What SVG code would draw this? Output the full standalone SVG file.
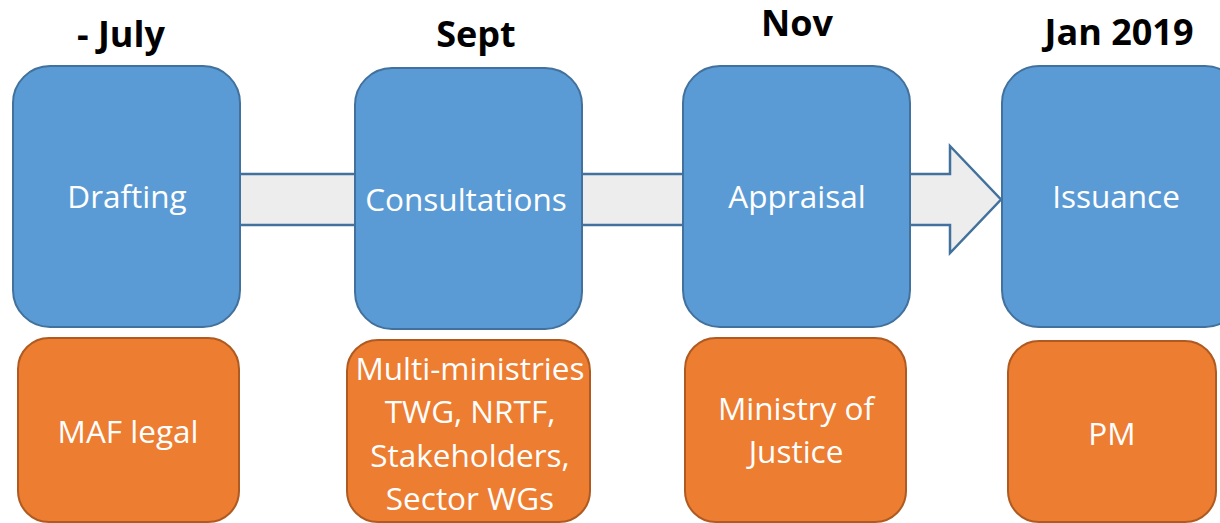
<svg xmlns="http://www.w3.org/2000/svg" width="1220" height="523" viewBox="0 0 1220 523">
<style>
.blue{fill:#5B9BD5;stroke:#41719C;stroke-width:2}
.orange{fill:#ED7D31;stroke:#AE5A21;stroke-width:2}
.arrow{fill:#EDEDED;stroke:#41719C;stroke-width:2.5;stroke-linejoin:miter}
.head{font-family:"Open Sans","Liberation Sans",sans-serif;font-weight:bold;font-size:36px;fill:#000;text-anchor:middle}
.lbl{font-family:"Open Sans","Liberation Sans",sans-serif;font-size:31.5px;fill:#fff;text-anchor:middle}
</style>
<rect width="1220" height="523" fill="#fff"/>
<g id="connectors">
<path class="arrow" d="M200 174 H950 V146 L1001 199.5 L950 253 V225 H200 Z"/>
</g>
<g id="headings">
<text class="head" x="121" y="47">- July</text>
<text class="head" x="476" y="47">Sept</text>
<text class="head" x="797" y="36">Nov</text>
<text class="head" x="1119" y="45">Jan 2019</text>
</g>
<g id="drafting">
<rect class="blue" x="13" y="66" width="227" height="261" rx="37"/>
<text class="lbl" x="127" y="208">Drafting</text>
</g>
<g id="consultations">
<rect class="blue" x="355" y="68" width="227" height="261" rx="37"/>
<text class="lbl" x="466" y="211">Consultations</text>
</g>
<g id="appraisal">
<rect class="blue" x="683" y="66" width="227" height="261" rx="37"/>
<text class="lbl" x="797" y="208">Appraisal</text>
</g>
<g id="issuance">
<rect class="blue" x="1002" y="66" width="240" height="261" rx="37"/>
<text class="lbl" x="1116" y="208">Issuance</text>
</g>
<g id="maf-legal">
<rect class="orange" x="18" y="338" width="221" height="184" rx="31"/>
<text class="lbl" x="128" y="443">MAF legal</text>
</g>
<g id="multi-ministries">
<rect class="orange" x="347" y="340" width="243" height="182" rx="31"/>
<text class="lbl" x="470" y="380">Multi-ministries</text>
<text class="lbl" x="470" y="423">TWG, NRTF,</text>
<text class="lbl" x="470" y="467">Stakeholders,</text>
<text class="lbl" x="470" y="510">Sector WGs</text>
</g>
<g id="ministry-of-justice">
<rect class="orange" x="685" y="338" width="221" height="184" rx="31"/>
<text class="lbl" x="796" y="420">Ministry of</text>
<text class="lbl" x="796" y="463">Justice</text>
</g>
<g id="pm">
<rect class="orange" x="1008" y="341" width="208" height="181" rx="31"/>
<text class="lbl" x="1112" y="445">PM</text>
</g>
</svg>
